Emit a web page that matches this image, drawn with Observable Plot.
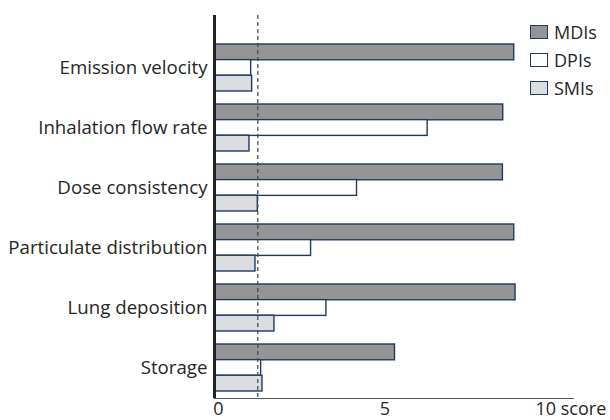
<!DOCTYPE html>
<html>
<head>
<meta charset="utf-8">
<script src="https://cdn.jsdelivr.net/npm/d3@7"></script>
<script src="https://cdn.jsdelivr.net/npm/@observablehq/plot@0.6"></script>
<style>
  html, body { margin: 0; padding: 0; background: #fff; }
  #wrap { position: relative; width: 610px; height: 420px; font-family: "Open Sans", sans-serif; color: #262626; }
  #legend { position: absolute; left: 530px; top: 18px; font-size: 18px; }
  .row { display: flex; align-items: center; height: 28px; }
  .sw { width: 16px; height: 12px; border: 1.5px solid #1f3a60; margin-right: 6px; }
</style>
</head>
<body>
<div id="wrap"><div id="legend"></div></div>
<script>
const categories = ["Emission velocity", "Inhalation flow rate", "Dose consistency", "Particulate distribution", "Lung deposition", "Storage"];
const series = ["MDIs", "DPIs", "SMIs"];
const mdiValues = [9.0, 8.67, 8.66, 9.0, 9.04, 5.42];
const dpiValues = [1.1, 6.4, 4.28, 2.9, 3.36, 1.4];
const smiValues = [1.13, 1.05, 1.3, 1.23, 1.8, 1.44];
const thresholdValue = [1.3];
const xTicks = [0, 5];
const xTickLabels = ["0", "5"];
const xEndTick = [10];
const xEndLabel = ["10 score"];

const fills = {MDIs: "#959595", DPIs: "#ffffff", SMIs: "#dcdde0"};
const strokeCol = "#1f3a60";
const valuesBySeries = {MDIs: mdiValues, DPIs: dpiValues, SMIs: smiValues};
const data = series.flatMap(s => categories.map((c, i) => ({category: c, series: s, value: valuesBySeries[s][i]})));

const yRange = [44, 391];
const padInner = 0.22;
const step = (yRange[1] - yRange[0]) / (categories.length - padInner);
const bw = step * (1 - padInner);
const sub = bw / 3;

const barMarks = series.map((s, k) =>
  Plot.barX(data.filter(d => d.series === s), {
    x: "value", y: "category",
    fill: fills[s], stroke: strokeCol, strokeWidth: 1.4,
    insetTop: sub * k, insetBottom: sub * (2 - k)
  })
);

const chart = Plot.plot({
  width: 610, height: 420,
  marginLeft: 214, marginRight: 37, marginTop: 15, marginBottom: 22,
  style: {fontFamily: "'Open Sans', sans-serif", fontSize: "18px", color: "#262626", background: "transparent", overflow: "visible"},
  x: {domain: [0, 10.78], axis: null},
  y: {domain: categories, range: yRange, paddingInner: padInner, paddingOuter: 0, axis: null},
  marks: [
    ...barMarks,
    Plot.ruleX(thresholdValue, {stroke: "#444", strokeWidth: 1.2, strokeDasharray: "4,3"}),
    Plot.ruleX([0], {stroke: "#222", strokeWidth: 3}),
    Plot.frame({anchor: "bottom", stroke: "#555", strokeWidth: 1}),
    Plot.axisY({tickSize: 0, tickPadding: 7, label: null, fontSize: 18.7}),
    Plot.text(xTicks, {x: d => d, text: (d, i) => xTickLabels[i], frameAnchor: "bottom", lineAnchor: "middle", textAnchor: "middle", dx: 4, dy: 11, fill: "#262626"}),
    Plot.text(xEndTick, {x: d => d, text: (d, i) => xEndLabel[i], frameAnchor: "bottom", lineAnchor: "middle", textAnchor: "start", dx: -12, dy: 11, fill: "#262626"})
  ]
});
document.getElementById("wrap").prepend(chart);

const legend = document.getElementById("legend");
series.forEach(s => {
  const row = document.createElement("div");
  row.className = "row";
  const sw = document.createElement("div");
  sw.className = "sw";
  sw.style.background = fills[s];
  const t = document.createElement("span");
  t.textContent = s;
  row.append(sw, t);
  legend.append(row);
});
</script>
</body>
</html>
